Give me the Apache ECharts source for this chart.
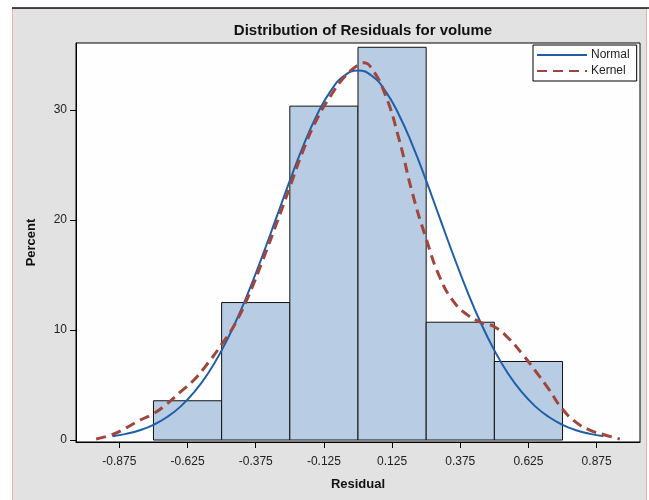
<!DOCTYPE html>
<html>
<head>
<meta charset="utf-8">
<script src="https://cdn.jsdelivr.net/npm/echarts@6/dist/echarts.min.js"></script>
<style>
  html, body { margin: 0; padding: 0; background: #fff; }
  #chart { width: 649px; height: 500px; }
</style>
</head>
<body>
<div id="chart"></div>
<script>
// histogram bins (residual) and percent per bin
var binStart = [-0.75, -0.5, -0.25, 0, 0.25, 0.5];
var binEnd = [-0.5, -0.25, 0, 0.25, 0.5, 0.75];
var binPct = [3.57, 12.5, 30.36, 35.71, 10.71, 7.14];

// fitted normal curve
var normalX = [-0.9, -0.85, -0.8, -0.75, -0.7, -0.65, -0.6, -0.55, -0.5, -0.45, -0.4, -0.35, -0.3, -0.25, -0.2, -0.15, -0.1, -0.05, 0,
    0.05, 0.1, 0.15, 0.2, 0.25, 0.3, 0.35, 0.4, 0.45, 0.5, 0.55, 0.6, 0.65, 0.7, 0.75, 0.8, 0.85, 0.9];
var normalY = [0.34, 0.56, 0.89, 1.38, 2.09, 3.06, 4.37, 6.05, 8.15, 10.66, 13.57, 16.78, 20.17, 23.58, 26.79, 29.58, 31.75, 33.13, 33.6,
    33.13, 31.75, 29.58, 26.79, 23.58, 20.17, 16.78, 13.57, 10.66, 8.15, 6.05, 4.37, 3.06, 2.09, 1.38, 0.89, 0.56, 0.34];

// kernel density curve
var kernelX = [-0.96, -0.9, -0.85, -0.8, -0.75, -0.7, -0.65, -0.6, -0.55, -0.5, -0.45, -0.4, -0.35, -0.3, -0.25, -0.2, -0.15, -0.1, -0.05, 0, 0.02,
    0.05, 0.1, 0.15, 0.2, 0.25, 0.3, 0.35, 0.4, 0.45, 0.5, 0.55, 0.6, 0.65, 0.7, 0.75, 0.8, 0.85, 0.9, 0.96];
var kernelY = [0.1, 0.5, 1.1, 1.8, 2.4, 3.3, 4.4, 5.5, 7.0, 8.7, 10.6, 13.2, 16.3, 19.6, 23.0, 26.4, 29.2, 31.3, 33.0, 34.1, 34.3,
    33.8, 31.4, 27.4, 22.4, 18.3, 14.8, 12.6, 11.4, 10.7, 10.3, 9.3, 7.9, 6.3, 4.6, 2.8, 1.6, 0.9, 0.5, 0.1];

var xTicks = [-0.875, -0.625, -0.375, -0.125, 0.125, 0.375, 0.625, 0.875];
var yTicks = [0, 10, 20, 30];

var FONT = "'Liberation Sans', Arial, sans-serif";

var chart = echarts.init(document.getElementById('chart'));

var histData = binStart.map(function (s, i) { return [s, binEnd[i], binPct[i]]; });
var normalData = normalX.map(function (x, i) { return [x, normalY[i]]; });
var kernelData = kernelX.map(function (x, i) { return [x, kernelY[i]]; });

var option = {
    backgroundColor: '#fff',
    animation: false,
    graphic: [
        {
            type: 'rect', z: -10, silent: true,
            shape: { x: 12.5, y: 8.5, width: 634, height: 500 },
            style: { fill: '#e2e2e2', stroke: '#eeb0a0', lineWidth: 1 }
        },
        {
            type: 'line', z: -9, silent: true,
            shape: { x1: 12, y1: 8, x2: 649, y2: 8 },
            style: { stroke: '#111', lineWidth: 1.5 }
        }
    ],
    title: {
        text: 'Distribution of Residuals for volume',
        left: 358, top: 18,
        textAlign: 'center',
        textStyle: { fontFamily: FONT, fontSize: 15, fontWeight: 'bold', color: '#111' }
    },
    legend: {
        data: ['Normal', 'Kernel'],
        orient: 'vertical',
        left: 533, top: 45,
        itemWidth: 50, itemHeight: 12, itemGap: 4,
        padding: [4, 7, 4, 3],
        backgroundColor: '#fff',
        borderColor: '#000', borderWidth: 1,
        itemStyle: { opacity: 0 },
        textStyle: { fontFamily: FONT, fontSize: 12, color: '#222', padding: [0, 0, 0, -1] }
    },
    grid: {
        left: 76, right: 9, top: 43, bottom: 58,
        show: true,
        backgroundColor: '#fefefe',
        borderColor: '#000', borderWidth: 1
    },
    xAxis: {
        type: 'value',
        min: -1.034, max: 1.034,
        name: 'Residual',
        nameLocation: 'middle', nameGap: 36,
        nameTextStyle: { fontFamily: FONT, fontSize: 13, fontWeight: 'bold', color: '#111' },
        axisLine: { show: true, onZero: false, lineStyle: { color: '#000' } },
        splitLine: { show: false },
        axisTick: { show: true, length: 6, customValues: xTicks, lineStyle: { color: '#000' } },
        axisLabel: {
            customValues: xTicks, margin: 14,
            fontFamily: FONT, fontSize: 12, color: '#222',
            formatter: function (v) { return v.toFixed(3); }
        }
    },
    yAxis: {
        type: 'value',
        min: -0.18, max: 36.1,
        name: 'Percent',
        nameLocation: 'middle', nameGap: 38,
        nameTextStyle: { fontFamily: FONT, fontSize: 13, fontWeight: 'bold', color: '#111' },
        axisLine: { show: true, onZero: false, lineStyle: { color: '#000' } },
        splitLine: { show: false },
        axisTick: { show: true, length: 6, customValues: yTicks, lineStyle: { color: '#000' } },
        axisLabel: {
            customValues: yTicks, margin: 9,
            fontFamily: FONT, fontSize: 12, color: '#222'
        }
    },
    series: [
        {
            name: 'hist',
            type: 'custom',
            data: histData,
            encode: { x: [0, 1], y: 2 },
            renderItem: function (params, api) {
                var p0 = api.coord([api.value(0), api.value(2)]);
                var p1 = api.coord([api.value(1), 0]);
                return {
                    type: 'rect',
                    shape: { x: p0[0], y: p0[1], width: p1[0] - p0[0], height: p1[1] - p0[1] },
                    style: { fill: '#b8cce4', stroke: '#111', lineWidth: 1 }
                };
            },
            z: 1
        },
        {
            name: 'Normal',
            type: 'line',
            data: normalData,
            smooth: true,
            symbol: 'none',
            lineStyle: { color: '#1f5fa8', width: 2 },
            itemStyle: { color: '#1f5fa8' },
            z: 3
        },
        {
            name: 'Kernel',
            type: 'line',
            data: kernelData,
            smooth: true,
            symbol: 'none',
            lineStyle: { color: '#a0463c', width: 3, type: [10, 6] },
            itemStyle: { color: '#a0463c' },
            z: 4
        }
    ]
};

chart.setOption(option);
</script>
</body>
</html>
